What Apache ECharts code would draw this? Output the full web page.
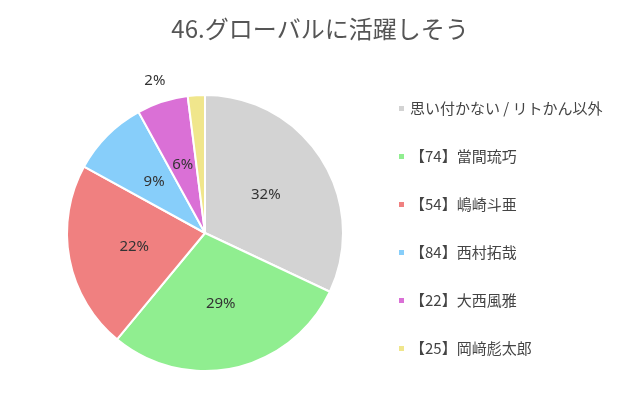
<!DOCTYPE html>
<html><head><meta charset="utf-8">
<script src="https://cdn.jsdelivr.net/npm/echarts@6/dist/echarts.min.js"></script>
<style>html,body{margin:0;padding:0;background:#fff}#c{width:640px;height:406px}</style>
</head><body><div id="c"></div>
<script>
const categories = ["思い付かない / リトかん以外","【74】當間琉巧","【54】嶋崎斗亜","【84】西村拓哉","【22】大西風雅","【25】岡﨑彪太郎"];
const values = [32, 29, 22, 9, 6, 2];
const colors = ["#d3d3d3","#90ee90","#f08080","#87cefa","#da70d6","#f0e68c"];
const chart = echarts.init(document.getElementById('c'));
chart.setOption({
  animation:false,
  title:{text:"46.グローバルに活躍しそう",left:'center',top:12,textStyle:{fontSize:24,fontWeight:'normal',color:'#555',fontFamily:'Noto Sans CJK JP'}},
  legend:{orient:'vertical',left:392,top:96,itemGap:33,itemWidth:7,itemHeight:7,icon:'rect',
    textStyle:{fontSize:15,color:'#444',fontFamily:'Noto Sans CJK JP'}},
  series:[{type:'pie',center:[205,233],radius:[0,138],startAngle:90,clockwise:true,
    itemStyle:{borderColor:'#fff',borderWidth:2},
    label:{position:'inner',formatter:'{c}%',fontSize:15,color:'#333',fontFamily:'Noto Sans'},
    labelLine:{show:false},
    data:categories.map((n,i)=>({name:n,value:values[i],itemStyle:{color:colors[i]},
      label:{position:i===5?'outside':'inner',distanceToLabelLine:0}}))}]
});
</script></body></html>
